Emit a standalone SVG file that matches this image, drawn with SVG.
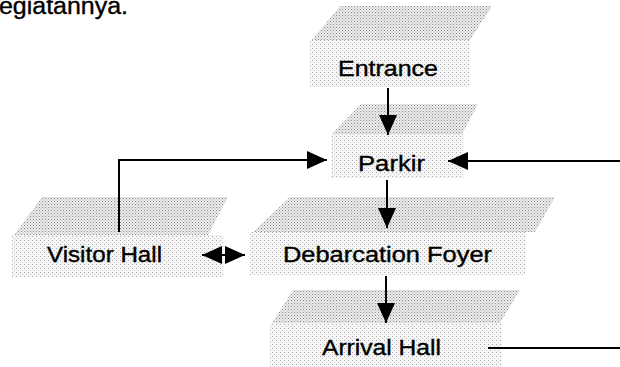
<svg xmlns="http://www.w3.org/2000/svg" width="620" height="367" viewBox="0 0 620 367">
<defs>
<pattern id="dk" width="3" height="3" patternUnits="userSpaceOnUse">
<rect width="3" height="3" fill="#ececec"/>
<rect x="0" y="0" width="1" height="1" fill="#8a8a8a"/>
<rect x="1.5" y="1.5" width="1" height="1" fill="#aaaaaa"/>
</pattern>
<pattern id="lt" width="4" height="4" patternUnits="userSpaceOnUse">
<rect width="4" height="4" fill="#f6f6f6"/>
<rect x="0" y="0" width="1" height="1" fill="#a8a8a8"/>
<rect x="2" y="2" width="1" height="1" fill="#c8c8c8"/>
</pattern>
<marker id="ah" viewBox="0 0 20 18" refX="20" refY="9" markerWidth="20" markerHeight="18" markerUnits="userSpaceOnUse" orient="auto-start-reverse">
<path d="M0,0 L20,9 L0,18 Z" fill="#000"/>
</marker>
</defs>
<style>
.top{fill:url(#dk)}
.front{fill:url(#lt)}
.lbl{font-family:"Liberation Sans",Arial,sans-serif;font-size:21.5px;fill:#000;stroke:#000;stroke-width:0.35}
.ln{stroke:#000;stroke-width:2;fill:none}
</style>
<rect width="620" height="367" fill="#fff"/>
<text class="lbl" x="-1" y="14" style="font-size:23px" textLength="129" lengthAdjust="spacingAndGlyphs">egiatannya.</text>

<g id="node-entrance">
<polygon class="top" points="340,6 492,6 470,40 312,40"/>
<rect class="front" x="310" y="40" width="160" height="47"/>
<text class="lbl" x="338" y="76" textLength="100" lengthAdjust="spacingAndGlyphs">Entrance</text>
</g>
<g id="node-parkir">
<polygon class="top" points="361,104 478,104 462,134 332,134"/>
<rect class="front" x="331" y="134" width="133" height="44"/>
<text class="lbl" x="358" y="171" textLength="67" lengthAdjust="spacingAndGlyphs">Parkir</text>
</g>
<g id="node-visitor">
<polygon class="top" points="42,197 228,197 208,235 14,235"/>
<rect class="front" x="12" y="235" width="212" height="42"/>
<text class="lbl" x="47" y="262" textLength="115" lengthAdjust="spacingAndGlyphs">Visitor Hall</text>
</g>
<g id="node-debarcation">
<polygon class="top" points="290,197 555,197 535,232 253,232"/>
<rect class="front" x="250" y="232" width="276" height="43"/>
<text class="lbl" x="283" y="262" textLength="209" lengthAdjust="spacingAndGlyphs">Debarcation Foyer</text>
</g>
<g id="node-arrival">
<polygon class="top" points="293,290 520,290 500,323 272,323"/>
<rect class="front" x="270" y="323" width="232" height="44"/>
<text class="lbl" x="322" y="355" textLength="119" lengthAdjust="spacingAndGlyphs">Arrival Hall</text>
</g>

<g id="connectors">
<line class="ln" x1="388" y1="88" x2="388" y2="135" marker-end="url(#ah)"/>
<line class="ln" x1="387" y1="180" x2="387" y2="228" marker-end="url(#ah)"/>
<line class="ln" x1="386" y1="276" x2="386" y2="323" marker-end="url(#ah)"/>
<polyline class="ln" points="119,232 119,160 327,160" marker-end="url(#ah)"/>
<line class="ln" x1="620" y1="161" x2="448" y2="161" marker-end="url(#ah)"/>
<line class="ln" x1="202" y1="255" x2="245" y2="255" marker-start="url(#ah)" marker-end="url(#ah)"/>
<line class="ln" x1="488" y1="348" x2="620" y2="348"/>
</g>
</svg>
